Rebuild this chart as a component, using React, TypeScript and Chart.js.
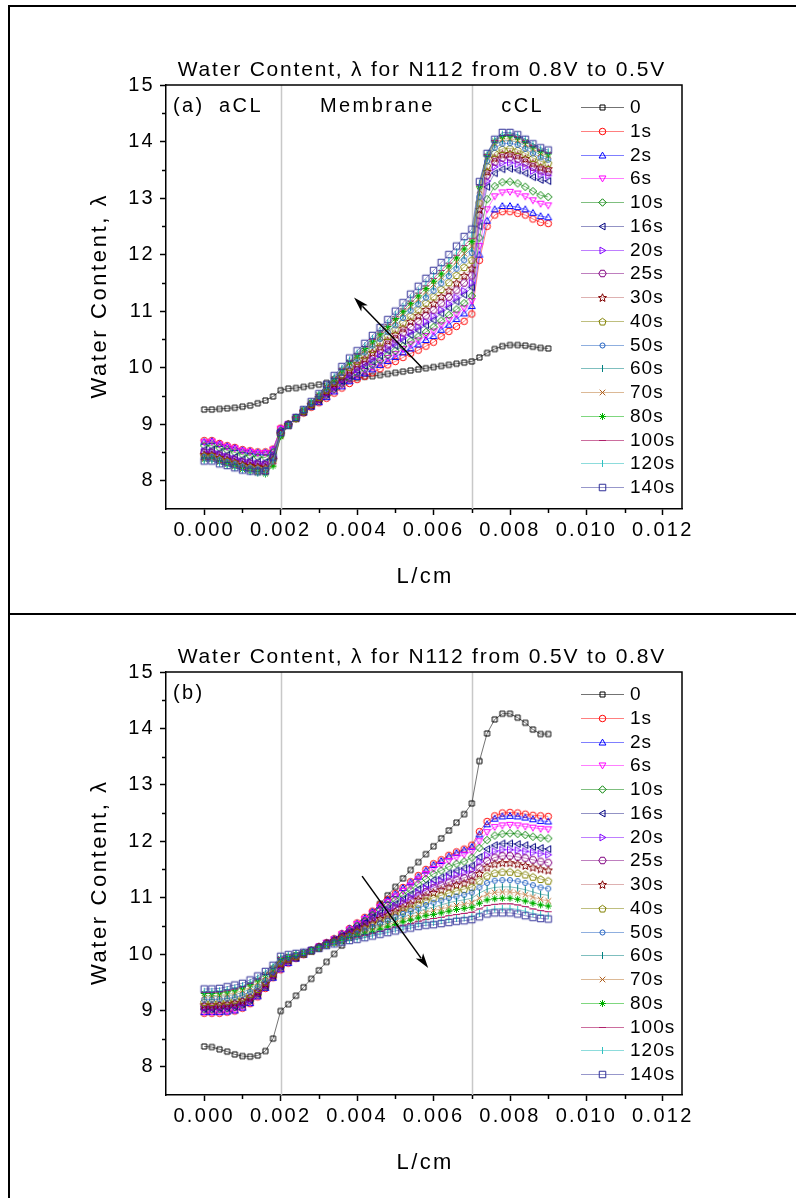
import React, { useEffect, useRef } from "react";
import { Chart, registerables } from "chart.js";

Chart.register(...registerables);

const FONT = '"Liberation Sans", Arial, Helvetica, sans-serif';

// ---------------- data ----------------
const X_CM = [
  0, 0.0002, 0.0004, 0.0006, 0.0008, 0.001, 0.0012, 0.0014, 0.0016, 0.0018,
  0.002, 0.0022, 0.0024, 0.0026, 0.0028, 0.003, 0.0032, 0.0034, 0.0036, 0.0038,
  0.004, 0.0042, 0.0044, 0.0046, 0.0048, 0.005, 0.0052, 0.0054, 0.0056, 0.0058,
  0.006, 0.0062, 0.0064, 0.0066, 0.0068, 0.007, 0.0072, 0.0074, 0.0076, 0.0078,
  0.008, 0.0082, 0.0084, 0.0086, 0.0088, 0.009,
];

const SERIES_NAMES = ["0", "1s", "2s", "6s", "10s", "16s", "20s", "25s", "30s", "40s", "50s", "60s", "70s", "80s", "100s", "120s", "140s"];

const X_TICKS = [0, 0.002, 0.004, 0.006, 0.008, 0.01, 0.012];
const X_MINOR_TICKS = [0.001, 0.003, 0.005, 0.007, 0.009, 0.011];
const Y_TICKS = [8, 9, 10, 11, 12, 13, 14, 15];
const Y_MINOR_TICKS = [8.5, 9.5, 10.5, 11.5, 12.5, 13.5, 14.5];
const REGION_BOUNDARIES = [0.002, 0.007];

// (a) 0.8V -> 0.5V
const TOP_0 = [9.26,9.26,9.27,9.28,9.29,9.31,9.33,9.37,9.42,9.49, 9.60,9.63,9.64,9.66,9.68,9.70,9.73,9.75,9.77,9.80,9.82,9.84,9.85,9.87,9.89,9.91,9.93,9.95,9.97,9.99,10.01,10.03,10.05,10.07,10.09,10.11, 10.18,10.26,10.33,10.38,10.40,10.40,10.39,10.37,10.35,10.34];
const TOP_1 = [8.71,8.71,8.66,8.62,8.59,8.55,8.53,8.51,8.51,8.56, 8.93,9.00,9.10,9.20,9.30,9.38,9.46,9.55,9.64,9.72,9.79,9.85,9.91,9.98,10.05,10.11,10.18,10.25,10.31,10.38,10.45,10.55,10.64,10.73,10.82,10.95, 11.90,12.50,12.70,12.76,12.76,12.73,12.70,12.63,12.57,12.55];
const TOP_2 = [8.69,8.70,8.65,8.61,8.58,8.54,8.52,8.50,8.50,8.55, 8.92,9.00,9.10,9.21,9.31,9.39,9.48,9.58,9.67,9.76,9.84,9.90,9.97,10.05,10.12,10.19,10.27,10.34,10.41,10.49,10.56,10.67,10.76,10.86,10.96,11.09, 12.00,12.60,12.80,12.86,12.86,12.84,12.80,12.74,12.68,12.66];
const TOP_6 = [8.68,8.69,8.64,8.60,8.57,8.53,8.51,8.49,8.49,8.55, 8.92,9.00,9.10,9.21,9.32,9.40,9.50,9.60,9.70,9.79,9.87,9.94,10.01,10.09,10.17,10.24,10.33,10.41,10.48,10.56,10.64,10.75,10.84,10.94,11.05,11.18, 12.15,12.80,13.03,13.10,13.11,13.08,13.03,12.96,12.90,12.87];
const TOP_10 = [8.62,8.62,8.58,8.54,8.50,8.46,8.44,8.42,8.41,8.50, 8.88,9.00,9.10,9.21,9.32,9.41,9.51,9.62,9.72,9.81,9.90,9.97,10.05,10.13,10.22,10.30,10.38,10.47,10.55,10.63,10.72,10.83,10.93,11.03,11.14,11.27, 12.30,12.98,13.21,13.28,13.29,13.26,13.20,13.12,13.05,13.02];
const TOP_16 = [8.55,8.55,8.50,8.46,8.42,8.38,8.36,8.34,8.33,8.44, 8.86,8.99,9.11,9.22,9.33,9.43,9.53,9.65,9.76,9.86,9.95,10.03,10.11,10.21,10.30,10.39,10.48,10.58,10.66,10.75,10.84,10.96,11.06,11.17,11.29,11.42, 12.50,13.20,13.44,13.51,13.52,13.49,13.44,13.37,13.32,13.30];
const TOP_20 = [8.52,8.52,8.47,8.43,8.39,8.35,8.33,8.31,8.30,8.42, 8.85,8.99,9.11,9.22,9.34,9.44,9.55,9.66,9.78,9.88,9.97,10.06,10.15,10.24,10.34,10.43,10.53,10.63,10.72,10.81,10.91,11.02,11.13,11.24,11.36,11.50, 12.60,13.30,13.55,13.62,13.63,13.60,13.55,13.48,13.42,13.40];
const TOP_25 = [8.50,8.50,8.45,8.41,8.37,8.33,8.31,8.29,8.28,8.41, 8.84,8.99,9.11,9.23,9.35,9.45,9.57,9.69,9.81,9.92,10.02,10.11,10.21,10.31,10.41,10.51,10.62,10.72,10.82,10.92,11.02,11.14,11.25,11.37,11.50,11.63, 12.70,13.40,13.64,13.71,13.72,13.69,13.63,13.55,13.49,13.46];
const TOP_30 = [8.46,8.46,8.41,8.37,8.33,8.29,8.27,8.25,8.24,8.38, 8.83,8.99,9.11,9.23,9.35,9.47,9.59,9.72,9.85,9.96,10.07,10.16,10.27,10.37,10.48,10.59,10.70,10.82,10.92,11.03,11.14,11.26,11.37,11.50,11.63,11.76, 12.80,13.47,13.71,13.78,13.79,13.76,13.70,13.62,13.55,13.52];
const TOP_40 = [8.44,8.44,8.39,8.35,8.31,8.27,8.24,8.22,8.21,8.36, 8.82,8.99,9.11,9.24,9.36,9.48,9.61,9.75,9.88,10.01,10.12,10.22,10.33,10.45,10.56,10.68,10.80,10.92,11.03,11.15,11.26,11.39,11.51,11.64,11.78,11.91, 12.92,13.57,13.80,13.87,13.88,13.85,13.79,13.71,13.65,13.62];
const TOP_50 = [8.42,8.42,8.37,8.33,8.29,8.25,8.22,8.20,8.19,8.34, 8.81,8.99,9.11,9.24,9.37,9.50,9.63,9.77,9.91,10.04,10.16,10.27,10.39,10.51,10.63,10.75,10.88,11.01,11.12,11.24,11.36,11.49,11.62,11.75,11.90,12.03, 13.02,13.65,13.89,13.96,13.97,13.94,13.87,13.79,13.72,13.68];
const TOP_60 = [8.40,8.40,8.35,8.31,8.27,8.23,8.20,8.18,8.16,8.31, 8.80,8.98,9.12,9.25,9.38,9.50,9.64,9.79,9.93,10.07,10.18,10.30,10.42,10.54,10.67,10.80,10.93,11.06,11.18,11.30,11.43,11.56,11.69,11.82,11.98,12.11, 13.10,13.70,13.94,14.01,14.02,13.99,13.92,13.84,13.76,13.72];
const TOP_70 = [8.39,8.39,8.34,8.30,8.26,8.22,8.19,8.16,8.15,8.29, 8.79,8.98,9.12,9.25,9.38,9.51,9.65,9.80,9.94,10.08,10.20,10.31,10.44,10.56,10.69,10.82,10.96,11.09,11.21,11.34,11.47,11.60,11.73,11.87,12.02,12.15, 13.14,13.73,13.97,14.04,14.05,14.02,13.95,13.87,13.79,13.75];
const TOP_80 = [8.38,8.38,8.33,8.29,8.25,8.20,8.17,8.14,8.12,8.26, 8.78,8.98,9.12,9.25,9.39,9.52,9.66,9.81,9.96,10.10,10.22,10.34,10.47,10.60,10.73,10.87,11.00,11.14,11.27,11.40,11.53,11.66,11.80,11.94,12.10,12.23, 13.20,13.75,14.01,14.09,14.10,14.07,14.00,13.91,13.83,13.78];
const TOP_100 = [8.37,8.37,8.32,8.28,8.24,8.20,8.17,8.14,8.13,8.30, 8.80,8.98,9.12,9.25,9.39,9.52,9.67,9.83,9.98,10.12,10.24,10.37,10.50,10.63,10.76,10.90,11.04,11.18,11.32,11.45,11.58,11.72,11.85,11.99,12.16,12.29, 13.23,13.77,14.02,14.11,14.12,14.09,14.02,13.93,13.85,13.80];
const TOP_120 = [8.36,8.36,8.31,8.27,8.23,8.19,8.16,8.14,8.14,8.35, 8.82,8.98,9.12,9.26,9.39,9.53,9.68,9.84,9.99,10.14,10.26,10.39,10.52,10.66,10.79,10.94,11.08,11.23,11.36,11.50,11.63,11.77,11.90,12.05,12.22,12.35, 13.26,13.78,14.03,14.13,14.14,14.11,14.04,13.95,13.87,13.82];
const TOP_140 = [8.35,8.35,8.30,8.27,8.23,8.19,8.17,8.16,8.17,8.42, 8.85,8.98,9.12,9.26,9.40,9.54,9.70,9.86,10.02,10.17,10.30,10.43,10.57,10.71,10.85,11.00,11.15,11.30,11.44,11.58,11.72,11.86,12.00,12.15,12.32,12.45, 13.29,13.79,14.04,14.16,14.16,14.12,14.04,13.96,13.89,13.85];

// (b) 0.5V -> 0.8V
const BOT_0 = [8.36,8.35,8.31,8.27,8.22,8.19,8.18,8.20,8.28,8.50, 8.99,9.11,9.26,9.41,9.56,9.71,9.86,10.00,10.15,10.29,10.43,10.58,10.73,10.89,11.04,11.19,11.34,11.49,11.63,11.77,11.91,12.05,12.19,12.33,12.48,12.67, 13.42,13.91,14.16,14.26,14.26,14.19,14.10,13.98,13.90,13.90];
const BOT_1 = [8.95,8.95,8.95,8.97,8.99,9.04,9.12,9.24,9.39,9.58, 9.72,9.84,9.92,9.99,10.06,10.13,10.20,10.27,10.36,10.45,10.55,10.65,10.76,10.87,10.97,11.07,11.18,11.28,11.39,11.50,11.60,11.67,11.75,11.81,11.86,11.93, 12.17,12.35,12.45,12.50,12.51,12.50,12.48,12.46,12.45,12.44];
const BOT_2 = [8.97,8.97,8.97,8.98,9.00,9.05,9.13,9.25,9.40,9.58, 9.73,9.84,9.92,9.99,10.06,10.13,10.20,10.27,10.36,10.45,10.54,10.64,10.75,10.86,10.96,11.06,11.17,11.27,11.37,11.48,11.58,11.65,11.73,11.79,11.84,11.90, 12.12,12.30,12.40,12.44,12.45,12.44,12.42,12.39,12.36,12.35];
const BOT_6 = [8.97,8.97,8.98,8.99,9.01,9.06,9.14,9.26,9.41,9.59, 9.74,9.85,9.93,9.99,10.06,10.13,10.20,10.26,10.35,10.43,10.53,10.62,10.72,10.83,10.92,11.02,11.12,11.21,11.32,11.42,11.51,11.58,11.65,11.71,11.76,11.82, 12.00,12.16,12.25,12.28,12.29,12.28,12.26,12.24,12.22,12.21];
const BOT_10 = [9.02,9.02,9.03,9.04,9.06,9.10,9.17,9.28,9.42,9.60, 9.76,9.87,9.94,10.00,10.06,10.12,10.19,10.25,10.33,10.41,10.50,10.59,10.69,10.78,10.87,10.96,11.05,11.14,11.24,11.33,11.42,11.48,11.55,11.60,11.64,11.71, 11.88,12.02,12.10,12.13,12.14,12.13,12.11,12.08,12.06,12.05];
const BOT_16 = [9.03,9.03,9.04,9.05,9.07,9.11,9.18,9.29,9.43,9.61, 9.78,9.88,9.94,10.00,10.06,10.12,10.19,10.25,10.32,10.39,10.47,10.55,10.64,10.73,10.81,10.89,10.98,11.06,11.15,11.23,11.31,11.36,11.43,11.48,11.52,11.57, 11.72,11.86,11.93,11.96,11.96,11.95,11.93,11.90,11.88,11.86];
const BOT_20 = [9.05,9.05,9.06,9.07,9.09,9.13,9.20,9.31,9.45,9.62, 9.80,9.89,9.95,10.00,10.06,10.12,10.18,10.24,10.31,10.38,10.45,10.53,10.61,10.70,10.78,10.85,10.94,11.01,11.09,11.17,11.24,11.30,11.36,11.40,11.44,11.49, 11.63,11.75,11.82,11.85,11.85,11.84,11.82,11.80,11.78,11.76];
const BOT_25 = [9.07,9.07,9.08,9.09,9.11,9.15,9.22,9.32,9.46,9.63, 9.82,9.90,9.96,10.01,10.06,10.12,10.18,10.23,10.30,10.37,10.43,10.51,10.58,10.66,10.73,10.81,10.88,10.95,11.03,11.10,11.17,11.22,11.27,11.32,11.35,11.40, 11.53,11.65,11.71,11.74,11.74,11.72,11.70,11.67,11.64,11.62];
const BOT_30 = [9.10,9.10,9.11,9.12,9.14,9.18,9.24,9.34,9.48,9.65, 9.83,9.91,9.96,10.01,10.06,10.12,10.18,10.23,10.29,10.35,10.41,10.48,10.55,10.63,10.69,10.76,10.83,10.89,10.97,11.03,11.09,11.14,11.19,11.23,11.26,11.31, 11.43,11.54,11.60,11.62,11.62,11.60,11.57,11.54,11.51,11.49];
const BOT_40 = [9.15,9.15,9.16,9.17,9.19,9.23,9.29,9.38,9.51,9.67, 9.85,9.92,9.97,10.01,10.06,10.11,10.17,10.22,10.28,10.33,10.39,10.45,10.51,10.58,10.64,10.70,10.77,10.82,10.89,10.95,11.00,11.04,11.08,11.12,11.15,11.19, 11.30,11.39,11.44,11.46,11.46,11.44,11.41,11.37,11.33,11.30];
const BOT_50 = [9.19,9.19,9.20,9.21,9.23,9.27,9.33,9.42,9.54,9.69, 9.87,9.94,9.98,10.02,10.06,10.11,10.17,10.21,10.26,10.32,10.36,10.42,10.48,10.54,10.59,10.65,10.71,10.76,10.81,10.87,10.91,10.95,10.99,11.02,11.05,11.09, 11.18,11.26,11.30,11.31,11.31,11.29,11.26,11.22,11.18,11.16];
const BOT_60 = [9.24,9.24,9.25,9.26,9.28,9.32,9.38,9.46,9.57,9.72, 9.89,9.95,9.98,10.02,10.06,10.11,10.16,10.21,10.25,10.30,10.34,10.39,10.45,10.50,10.55,10.60,10.65,10.70,10.75,10.80,10.83,10.87,10.91,10.94,10.96,10.99, 11.08,11.15,11.18,11.19,11.19,11.17,11.14,11.10,11.06,11.04];
const BOT_70 = [9.26,9.26,9.27,9.28,9.31,9.35,9.41,9.49,9.60,9.73, 9.90,9.96,9.99,10.02,10.06,10.11,10.16,10.20,10.24,10.29,10.33,10.37,10.42,10.47,10.52,10.56,10.61,10.65,10.70,10.74,10.77,10.80,10.83,10.86,10.88,10.91, 10.99,11.06,11.09,11.10,11.10,11.08,11.05,11.01,10.97,10.94];
const BOT_80 = [9.30,9.30,9.31,9.33,9.36,9.40,9.46,9.54,9.64,9.76, 9.92,9.96,9.99,10.02,10.06,10.11,10.16,10.20,10.24,10.28,10.31,10.35,10.39,10.44,10.48,10.52,10.57,10.60,10.64,10.68,10.70,10.73,10.76,10.79,10.81,10.83, 10.90,10.96,10.98,10.99,10.99,10.97,10.94,10.90,10.87,10.85];
const BOT_100 = [9.32,9.32,9.33,9.35,9.38,9.42,9.48,9.56,9.66,9.77, 9.94,9.98,10.00,10.03,10.06,10.10,10.15,10.19,10.22,10.26,10.29,10.33,10.36,10.40,10.44,10.48,10.51,10.54,10.58,10.61,10.63,10.65,10.68,10.70,10.72,10.74, 10.80,10.86,10.88,10.89,10.89,10.87,10.84,10.80,10.77,10.75];
const BOT_120 = [9.34,9.34,9.35,9.37,9.40,9.44,9.50,9.58,9.67,9.78, 9.95,9.98,10.01,10.03,10.06,10.10,10.15,10.18,10.22,10.25,10.27,10.30,10.34,10.37,10.40,10.44,10.47,10.49,10.53,10.55,10.56,10.59,10.61,10.63,10.64,10.66, 10.72,10.78,10.80,10.81,10.81,10.79,10.76,10.72,10.70,10.68];
const BOT_140 = [9.38,9.38,9.39,9.42,9.45,9.48,9.54,9.61,9.69,9.80, 9.96,9.99,10.01,10.03,10.06,10.10,10.15,10.18,10.21,10.24,10.26,10.29,10.32,10.35,10.38,10.41,10.44,10.46,10.49,10.51,10.52,10.54,10.56,10.58,10.59,10.61, 10.66,10.71,10.73,10.73,10.73,10.71,10.68,10.65,10.63,10.62];

const TOP_SERIES = [TOP_0, TOP_1, TOP_2, TOP_6, TOP_10, TOP_16, TOP_20, TOP_25, TOP_30, TOP_40, TOP_50, TOP_60, TOP_70, TOP_80, TOP_100, TOP_120, TOP_140];
const BOT_SERIES = [BOT_0, BOT_1, BOT_2, BOT_6, BOT_10, BOT_16, BOT_20, BOT_25, BOT_30, BOT_40, BOT_50, BOT_60, BOT_70, BOT_80, BOT_100, BOT_120, BOT_140];

// arrows in data units: [x from, y from, x to, y to]
const ARROW_TOP = [0.0057, 10.0, 0.00392, 11.24];
const ARROW_BOT = [0.00413, 11.38, 0.00586, 9.75];

// ---------------- styles ----------------
const STYLES = [
  { marker: "square", size: 5, color: "#000000", line: "rgba(100,100,100,0.9)" },
  { marker: "circle", size: 6.5, color: "#FF0000", line: "rgba(255,0,0,0.5)" },
  { marker: "triUp", size: 7.5, color: "#0000FF", line: "rgba(0,0,255,0.5)" },
  { marker: "triDown", size: 7.5, color: "#FF00FF", line: "rgba(255,0,255,0.5)" },
  { marker: "diamond", size: 7.5, color: "#008000", line: "rgba(0,128,0,0.5)" },
  { marker: "triLeft", size: 7.5, color: "#000080", line: "rgba(40,40,140,0.5)" },
  { marker: "triRight", size: 7.5, color: "#8000FF", line: "rgba(128,0,255,0.5)" },
  { marker: "hexagon", size: 7.5, color: "#800080", line: "rgba(128,0,128,0.5)" },
  { marker: "star", size: 8.5, color: "#800000", line: "rgba(190,100,100,0.5)" },
  { marker: "pentagon", size: 7.5, color: "#808000", line: "rgba(128,128,0,0.5)" },
  { marker: "circleSmall", size: 6, color: "#2060C0", line: "rgba(32,96,192,0.5)" },
  { marker: "vbar", size: 7, color: "#008080", line: "rgba(0,128,128,0.5)" },
  { marker: "x", size: 7, color: "#B06020", line: "rgba(192,128,64,0.55)" },
  { marker: "asterisk", size: 7, color: "#00B000", line: "rgba(0,176,0,0.5)" },
  { marker: "hbar", size: 7, color: "#B0206A", line: "rgba(176,32,106,0.65)" },
  { marker: "vbar", size: 7, color: "#30C0C0", line: "rgba(48,192,192,0.55)" },
  { marker: "square", size: 6.5, color: "#303098", line: "rgba(48,48,152,0.5)" },
];

function poly(ctx: CanvasRenderingContext2D, cx: number, cy: number, r: number, n: number, start: number) {
  for (let k = 0; k < n; k++) {
    const a = start + (k * 2 * Math.PI) / n;
    const px = cx + r * Math.cos(a);
    const py = cy + r * Math.sin(a);
    if (k === 0) ctx.moveTo(px, py);
    else ctx.lineTo(px, py);
  }
  ctx.closePath();
}

function drawMarker(ctx: CanvasRenderingContext2D, shape: string, cx: number, cy: number, size: number, color: string) {
  const r = size / 2;
  ctx.save();
  ctx.strokeStyle = color;
  ctx.fillStyle = color;
  ctx.lineWidth = 1;
  ctx.beginPath();
  switch (shape) {
    case "square":
      ctx.rect(cx - r, cy - r, size, size);
      ctx.stroke();
      break;
    case "circle":
      ctx.arc(cx, cy, r, 0, Math.PI * 2);
      ctx.stroke();
      break;
    case "circleSmall":
      ctx.arc(cx, cy, r * 0.85, 0, Math.PI * 2);
      ctx.stroke();
      break;
    case "triUp":
      poly(ctx, cx, cy + r * 0.15, r * 1.05, 3, -Math.PI / 2);
      ctx.stroke();
      break;
    case "triDown":
      poly(ctx, cx, cy - r * 0.15, r * 1.05, 3, Math.PI / 2);
      ctx.stroke();
      break;
    case "triLeft":
      poly(ctx, cx + r * 0.15, cy, r * 1.05, 3, Math.PI);
      ctx.stroke();
      break;
    case "triRight":
      poly(ctx, cx - r * 0.15, cy, r * 1.05, 3, 0);
      ctx.stroke();
      break;
    case "diamond":
      poly(ctx, cx, cy, r, 4, -Math.PI / 2);
      ctx.stroke();
      break;
    case "hexagon":
      poly(ctx, cx, cy, r, 6, 0);
      ctx.stroke();
      break;
    case "pentagon":
      poly(ctx, cx, cy + 0.5, r, 5, -Math.PI / 2);
      ctx.stroke();
      break;
    case "star": {
      for (let k = 0; k < 10; k++) {
        const a = -Math.PI / 2 + (k * Math.PI) / 5;
        const rr = k % 2 === 0 ? r : r * 0.45;
        const px = cx + rr * Math.cos(a);
        const py = cy + 0.5 + rr * Math.sin(a);
        if (k === 0) ctx.moveTo(px, py);
        else ctx.lineTo(px, py);
      }
      ctx.closePath();
      ctx.stroke();
      break;
    }
    case "vbar":
      ctx.moveTo(cx, cy - r);
      ctx.lineTo(cx, cy + r);
      ctx.stroke();
      break;
    case "hbar":
      ctx.moveTo(cx - r, cy);
      ctx.lineTo(cx + r, cy);
      ctx.stroke();
      break;
    case "x":
      ctx.moveTo(cx - r * 0.8, cy - r * 0.8);
      ctx.lineTo(cx + r * 0.8, cy + r * 0.8);
      ctx.moveTo(cx + r * 0.8, cy - r * 0.8);
      ctx.lineTo(cx - r * 0.8, cy + r * 0.8);
      ctx.stroke();
      break;
    case "asterisk":
      ctx.moveTo(cx - r, cy);
      ctx.lineTo(cx + r, cy);
      ctx.moveTo(cx, cy - r);
      ctx.lineTo(cx, cy + r);
      ctx.moveTo(cx - r * 0.7, cy - r * 0.7);
      ctx.lineTo(cx + r * 0.7, cy + r * 0.7);
      ctx.moveTo(cx + r * 0.7, cy - r * 0.7);
      ctx.lineTo(cx - r * 0.7, cy + r * 0.7);
      ctx.stroke();
      break;
  }
  ctx.restore();
}

function makeMarkerCanvas(shape: string, size: number, color: string) {
  const c = document.createElement("canvas");
  const dim = Math.ceil(size + 4);
  c.width = dim;
  c.height = dim;
  const ctx = c.getContext("2d")!;
  drawMarker(ctx, shape, dim / 2, dim / 2, size, color);
  return c;
}

function drawText(
  ctx: CanvasRenderingContext2D,
  text: string,
  x: number,
  y: number,
  size: number,
  spacing: number,
  align: CanvasTextAlign,
  rotate = 0
) {
  ctx.save();
  (ctx as any).letterSpacing = spacing + "px";
  ctx.font = `${size}px ${FONT}`;
  ctx.fillStyle = "#000";
  ctx.textAlign = align;
  ctx.textBaseline = "middle";
  ctx.translate(x, y);
  if (rotate) ctx.rotate(rotate);
  ctx.fillText(text, align === "center" ? spacing / 2 : 0, 0);
  ctx.restore();
}

function drawArrow(ctx: CanvasRenderingContext2D, x1: number, y1: number, x2: number, y2: number) {
  const ang = Math.atan2(y2 - y1, x2 - x1);
  const len = 15;
  const hw = 4.5;
  ctx.save();
  ctx.strokeStyle = "#000";
  ctx.fillStyle = "#000";
  ctx.lineWidth = 1.5;
  ctx.beginPath();
  ctx.moveTo(x1, y1);
  ctx.lineTo(x2 - Math.cos(ang) * len * 0.8, y2 - Math.sin(ang) * len * 0.8);
  ctx.stroke();
  ctx.beginPath();
  ctx.moveTo(x2, y2);
  ctx.lineTo(x2 - Math.cos(ang) * len - Math.sin(ang) * hw, y2 - Math.sin(ang) * len + Math.cos(ang) * hw);
  ctx.lineTo(x2 - Math.cos(ang) * len * 0.75, y2 - Math.sin(ang) * len * 0.75);
  ctx.lineTo(x2 - Math.cos(ang) * len + Math.sin(ang) * hw, y2 - Math.sin(ang) * len - Math.cos(ang) * hw);
  ctx.closePath();
  ctx.fill();
  ctx.restore();
}

type PanelProps = {
  top: number;
  height: number;
  plotTop: number;
  plotBottom: number;
  series: number[][];
  title: string;
  tag: string;
  regions: boolean;
  arrow: number[];
};

function Panel(props: PanelProps) {
  const ref = useRef<HTMLCanvasElement>(null);
  useEffect(() => {
    const canvas = ref.current!;
    const markers = STYLES.map((s) => makeMarkerCanvas(s.marker, s.size, s.color));
    const datasets = props.series.map((vals, i) => ({
      label: SERIES_NAMES[i],
      data: X_CM.map((x, k) => ({ x, y: vals[k] })),
      showLine: true,
      borderColor: STYLES[i].line,
      borderWidth: 1,
      backgroundColor: STYLES[i].line,
      pointStyle: markers[i],
      pointRadius: 4,
      order: -i,
    }));

    const deco = {
      id: "deco",
      beforeDraw(chart: any) {
        (chart.ctx as any).letterSpacing = "2.3px";
      },
      beforeDatasetsDraw(chart: any) {
        const ctx = chart.ctx as CanvasRenderingContext2D;
        const a = chart.chartArea;
        const xs = chart.scales.x;
        ctx.save();
        ctx.strokeStyle = "#C8C8C8";
        ctx.lineWidth = 1.5;
        REGION_BOUNDARIES.forEach((b) => {
          const px = Math.round(xs.getPixelForValue(b)) + 0.5;
          ctx.beginPath();
          ctx.moveTo(px, a.top);
          ctx.lineTo(px, a.bottom);
          ctx.stroke();
        });
        ctx.restore();
      },
      afterDraw(chart: any) {
        const ctx = chart.ctx as CanvasRenderingContext2D;
        const a = chart.chartArea;
        const xs = chart.scales.x;
        const ys = chart.scales.y;
        (ctx as any).letterSpacing = "0px";
        // frame top/right
        ctx.save();
        ctx.strokeStyle = "#000";
        ctx.lineWidth = 1.5;
        ctx.beginPath();
        ctx.moveTo(a.left, a.top);
        ctx.lineTo(a.right, a.top);
        ctx.lineTo(a.right, a.bottom);
        ctx.stroke();
        // minor ticks
        X_MINOR_TICKS.forEach((v) => {
          const px = Math.round(xs.getPixelForValue(v)) + 0.5;
          ctx.beginPath();
          ctx.moveTo(px, a.bottom);
          ctx.lineTo(px, a.bottom + 4);
          ctx.stroke();
        });
        Y_MINOR_TICKS.forEach((v) => {
          const py = Math.round(ys.getPixelForValue(v)) + 0.5;
          ctx.beginPath();
          ctx.moveTo(a.left, py);
          ctx.lineTo(a.left - 4, py);
          ctx.stroke();
        });
        ctx.restore();

        // arrow
        drawArrow(
          ctx,
          xs.getPixelForValue(props.arrow[0]),
          ys.getPixelForValue(props.arrow[1]),
          xs.getPixelForValue(props.arrow[2]),
          ys.getPixelForValue(props.arrow[3])
        );

        // title
        drawText(ctx, props.title, (a.left + a.right) / 2 - 3, a.top - 15, 21, 1.8, "center");
        // axis titles
        drawText(ctx, "L/cm", (a.left + a.right) / 2, a.bottom + 68, 22, 2.4, "center");
        drawText(ctx, "Water Content, \u03bb", 100, (a.top + a.bottom) / 2, 22, 2.6, "center", -Math.PI / 2);
        // panel tag and region labels
        drawText(ctx, props.tag, a.left + 7, a.top + 21, 20, 2.4, "left");
        if (props.regions) {
          drawText(ctx, "aCL", xs.getPixelForValue(0.00093), a.top + 21, 20, 2.4, "center");
          drawText(ctx, "Membrane", xs.getPixelForValue(0.0045), a.top + 21, 20, 2.4, "center");
          drawText(ctx, "cCL", xs.getPixelForValue(0.0083), a.top + 21, 20, 2.4, "center");
        }
        // legend
        const step = 23.75;
        SERIES_NAMES.forEach((name, i) => {
          const y = a.top + 22 + i * step;
          const x0 = a.left + 415;
          const x1 = a.left + 458;
          ctx.save();
          ctx.strokeStyle = STYLES[i].line;
          ctx.lineWidth = 1.2;
          ctx.beginPath();
          ctx.moveTo(x0, Math.round(y) + 0.5);
          ctx.lineTo(x1, Math.round(y) + 0.5);
          ctx.stroke();
          ctx.restore();
          drawMarker(ctx, STYLES[i].marker, (x0 + x1) / 2, Math.round(y) + 0.5, STYLES[i].size, STYLES[i].color);
          drawText(ctx, name, a.left + 464, y + 1, 19, 1.0, "left");
        });
      },
    };

    const chart = new Chart(canvas, {
      type: "scatter",
      data: { datasets: datasets as any },
      options: {
        animation: false,
        responsive: false,
        events: [],
        layout: {
          padding: { left: 0, right: 114, top: props.plotTop, bottom: props.height - props.plotBottom - 40 },
        },
        plugins: {
          legend: { display: false },
          tooltip: { enabled: false },
          title: { display: false },
        },
        scales: {
          x: {
            type: "linear",
            position: "bottom",
            min: -0.001,
            max: 0.0125,
            afterBuildTicks: (s: any) => {
              s.ticks = X_TICKS.map((v) => ({ value: v }));
            },
            afterFit: (s: any) => {
              s.height = 40;
            },
            grid: { display: true, drawOnChartArea: false, drawTicks: true, tickLength: 6, tickWidth: 1.5, tickColor: "#000" },
            border: { display: true, color: "#000", width: 1.5 },
            ticks: {
              font: { family: FONT, size: 20 },
              color: "#000",
              padding: 3,
              maxRotation: 0,
              autoSkip: false,
              callback: (v: any) => Number(v).toFixed(3),
            },
          },
          y: {
            type: "linear",
            min: 7.5,
            max: 15,
            afterBuildTicks: (s: any) => {
              s.ticks = Y_TICKS.map((v) => ({ value: v }));
            },
            afterFit: (s: any) => {
              s.width = 166;
            },
            grid: { display: true, drawOnChartArea: false, drawTicks: true, tickLength: 6, tickWidth: 1.5, tickColor: "#000" },
            border: { display: true, color: "#000", width: 1.5 },
            ticks: {
              font: { family: FONT, size: 20 },
              color: "#000",
              padding: 5,
              autoSkip: false,
              callback: (v: any) => String(v),
            },
          },
        },
      },
      plugins: [deco as any],
    });
    return () => chart.destroy();
  }, []);
  return (
    <canvas
      ref={ref}
      width={796}
      height={props.height}
      style={{ position: "absolute", left: 0, top: props.top, width: 796, height: props.height, display: "block" }}
    />
  );
}

export default function App() {
  return (
    <div style={{ position: "fixed", left: 0, top: 0, width: 796, height: 1198, background: "#fff", overflow: "hidden" }}>
      <Panel
        top={0}
        height={612}
        plotTop={85}
        plotBottom={509}
        series={TOP_SERIES}
        title={"Water Content, \u03bb for N112 from 0.8V to 0.5V"}
        tag="(a)"
        regions={true}
        arrow={ARROW_TOP}
      />
      <Panel
        top={612}
        height={586}
        plotTop={60}
        plotBottom={483}
        series={BOT_SERIES}
        title={"Water Content, \u03bb for N112 from 0.5V to 0.8V"}
        tag="(b)"
        regions={false}
        arrow={ARROW_BOT}
      />
      <div style={{ position: "absolute", left: 8, top: 5, width: 800, height: 1200, borderLeft: "2px solid #000", borderTop: "2px solid #000", boxSizing: "border-box" }} />
      <div style={{ position: "absolute", left: 8, top: 613, width: 800, height: 2, background: "#000" }} />
    </div>
  );
}
